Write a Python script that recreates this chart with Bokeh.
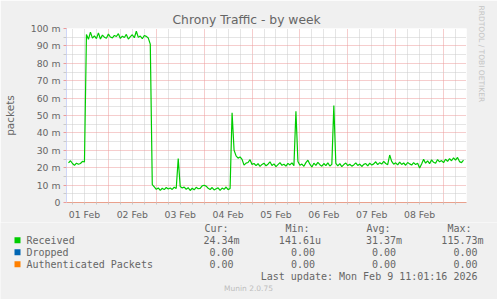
from bokeh.plotting import figure
from bokeh.layouts import column
from bokeh.models import FixedTicker, Range1d, Title
from bokeh.core.properties import value
from bokeh.embed import file_html
from bokeh.resources import INLINE

# ---------------- data ----------------
TITLE = "Chrony Traffic - by week"
Y_LABEL = "packets"
FIRST_HOUR = 4  # first sample: hours after 01 Feb 00:00, one sample per hour

# Received packets per second, in milli-units (m)
received = [
    22.8, 24.0, 22.4, 21.3, 22.6, 22.0, 22.4, 23.6, 23.3,
    96.5, 93.8, 97.9, 94.5, 95.8, 94.2, 97.5, 94.0, 96.2, 95.0, 94.4, 96.8,
    95.1, 94.6, 96.0, 95.4, 97.0, 94.3, 95.6, 94.8, 96.6, 93.9, 95.3, 96.4,
    94.7, 98.4, 94.9, 95.7, 94.1, 96.0, 95.5, 94.5,
    91.0,
    10.3, 9.0, 7.6, 8.4, 7.0, 8.2, 7.4, 8.6, 7.8, 8.3, 7.5, 8.8, 8.0,
    25.2,
    9.2, 8.4, 8.8, 7.6, 8.5, 6.9, 8.2, 7.3, 8.7, 7.9, 8.1, 9.6, 9.9, 9.4,
    8.2, 7.5, 8.6, 7.2, 7.9, 8.4, 7.0, 8.3, 7.6, 8.9, 7.4, 8.1,
    51.5,
    30.0, 26.8, 25.5, 26.2, 24.8, 21.5, 22.6, 23.0, 24.6, 21.9, 22.4, 21.2,
    22.3, 20.8, 21.9, 22.6, 21.1, 22.0, 23.4, 21.3, 22.2, 20.6, 21.8, 22.9,
    21.4, 22.0, 20.9, 22.5, 21.6, 22.8, 21.2,
    52.5,
    23.6, 21.4, 22.1, 20.8, 22.9, 24.3, 22.0, 20.4, 22.6, 21.3, 23.1, 21.7,
    20.9, 22.4, 21.2, 22.8, 21.0, 21.9,
    55.8,
    22.5, 21.0, 22.3, 20.6, 21.8, 22.7, 21.2, 22.0, 20.9, 21.6, 22.8, 21.3,
    22.1, 20.7, 21.9, 22.4, 21.0, 22.6, 21.5, 22.2, 23.4, 21.8, 22.9, 22.1,
    23.6, 22.4, 21.7,
    27.3,
    23.6, 22.0, 22.8, 21.6, 23.2, 21.9, 22.7, 21.4, 23.0, 22.2, 21.5, 22.9,
    21.8, 22.5, 19.8, 22.1, 24.8, 22.6, 23.9, 22.3, 24.5, 23.1, 22.6, 24.7,
    23.4, 24.1, 22.9, 24.9, 23.6, 25.2, 24.0, 25.7, 24.3, 25.9, 23.5, 22.9,
    24.3,
]
dropped = [0.0] * len(received)
authenticated = [0.0] * len(received)
hours = [FIRST_HOUR + i for i in range(len(received))]

day_labels = ["01 Feb", "02 Feb", "03 Feb", "04 Feb", "05 Feb", "06 Feb", "07 Feb", "08 Feb"]
y_ticks = [0, 10, 20, 30, 40, 50, 60, 70, 80, 90, 100]
y_tick_labels = ["0", "10 m", "20 m", "30 m", "40 m", "50 m", "60 m", "70 m", "80 m", "90 m", "100 m"]

series_names = ["Received", "Dropped", "Authenticated Packets"]
series_colors = ["#00CC00", "#0066B3", "#FF8000"]
stat_headers = ["Cur:", "Min:", "Avg:", "Max:"]
stat_cur = ["24.34m", "0.00", "0.00"]
stat_min = ["141.61u", "0.00", "0.00"]
stat_avg = ["31.37m", "0.00", "0.00"]
stat_max = ["115.73m", "0.00", "0.00"]
last_update = "Last update: Mon Feb  9 11:01:16 2026"
footer = "Munin 2.0.75"
side_note = "RRDTOOL / TOBI OETIKER"

# ---------------- styling / layout ----------------
W = 497
H_TOP = 222
H_BOT = 299 - H_TOP
FL, FR, FT, FB = 66, 30, 28, 19
X0, X1 = 3.0, 203.5
Y0, Y1 = 0.0, 100.0

FONT = "DejaVu Sans"
MONO = "DejaVu Sans Mono"
TXT = "#666666"
LAV = "#CFD6F8"
MGRID = "#EC9A9A"
GRID = "#CACACA"
BACK = "#F0F0F0"

p = figure(width=W, height=H_TOP, title=TITLE,
           x_range=Range1d(X0, X1), y_range=Range1d(Y0, Y1),
           output_backend="svg", toolbar_location=None,
           min_border_left=FL, min_border_right=FR,
           min_border_top=FT, min_border_bottom=FB,
           background_fill_color="#FFFFFF", border_fill_color=BACK,
           outline_line_color=None)

p.title.align = "left"
p.title.offset = 106
p.title.standoff = 3
p.title.text_font = FONT
p.title.text_font_size = "12.3px"
p.title.text_font_style = "normal"
p.title.text_color = TXT

# vertical credit in the right margin
p.add_layout(Title(text=side_note, align="left", offset=-23, standoff=20,
                   text_font=FONT, text_font_size="7.5px", text_font_style="normal",
                   text_color="#C4C4C4"), "right")

day_bounds = [24 * d for d in range(1, 9)]
six_hour_all = [6 * k for k in range(1, 34)]
six_hour_minor = [h for h in six_hour_all if h % 24 != 0]
label_pos = [24 * i + 12 for i in range(len(day_labels))]

# grids
p.xgrid.ticker = FixedTicker(ticks=day_bounds, minor_ticks=six_hour_minor)
p.xgrid.grid_line_color = MGRID
p.xgrid.grid_line_dash = "1 1"
p.xgrid.minor_grid_line_color = GRID
p.xgrid.minor_grid_line_dash = "1 1"

y_minor = [t + 5 for t in y_ticks[:-1]]
p.yaxis.ticker = FixedTicker(ticks=y_ticks, minor_ticks=y_minor)
p.ygrid.grid_line_color = MGRID
p.ygrid.grid_line_dash = "1 1"
p.ygrid.minor_grid_line_color = GRID
p.ygrid.minor_grid_line_dash = "1 1"

# x axis
xa = p.xaxis[0]
xa.ticker = FixedTicker(ticks=label_pos, minor_ticks=six_hour_all)
xa.major_label_overrides = {pos: lab for pos, lab in zip(label_pos, day_labels)}
xa.major_tick_line_color = None
xa.major_tick_out = 0
xa.major_tick_in = 0
xa.minor_tick_out = 2
xa.minor_tick_in = 0
xa.minor_tick_line_color = "#C8C8C8"
xa.axis_line_color = "#E9A08C"
xa.major_label_standoff = 4
xa.major_label_text_font = FONT
xa.major_label_text_font_size = "9.3px"
xa.major_label_text_color = TXT

# y axis
ya = p.yaxis[0]
ya.major_label_overrides = {t: lab for t, lab in zip(y_ticks, y_tick_labels)}
ya.major_tick_out = 3
ya.major_tick_in = 0
ya.major_tick_line_color = MGRID
ya.minor_tick_out = 3
ya.minor_tick_in = 0
ya.minor_tick_line_color = GRID
ya.axis_line_color = LAV
ya.major_label_standoff = 3
ya.major_label_text_font = FONT
ya.major_label_text_font_size = "9.3px"
ya.major_label_text_color = TXT
ya.axis_label = Y_LABEL
ya.axis_label_standoff = 12
ya.axis_label_text_font = FONT
ya.axis_label_text_font_size = "10.5px"
ya.axis_label_text_font_style = "normal"
ya.axis_label_text_color = TXT

# series
p.line(hours, received, line_color=series_colors[0], line_width=1.2)
p.line(hours, dropped, line_color=series_colors[1], line_width=1)
p.line(hours, authenticated, line_color=series_colors[2], line_width=1)

# ---------------- legend panel (pixel coordinates of the whole page) ----------------
q = figure(frame_width=W, frame_height=H_BOT, x_range=Range1d(0, W), y_range=Range1d(299, H_TOP),
           output_backend="svg", toolbar_location=None,
           min_border=0, min_border_left=0, min_border_right=0,
           min_border_top=0, min_border_bottom=0,
           background_fill_color=BACK, border_fill_color=BACK,
           outline_line_color=None, x_axis_type=None, y_axis_type=None)
q.grid.visible = False
for fig in (p, q):
    if "frame_align" in fig.properties():
        fig.frame_align = False

head_left = [204, 285, 366, 447]
val_right = [239, 320.5, 401.5, 483]
row_y = [239.8, 251.8, 263.8]
HEAD_Y = 227.8
CHAR_W = 6.0

left_x, left_y, left_t = [], [], []
right_x, right_y, right_t = [], [], []
for hx, h in zip(head_left, stat_headers):
    left_x.append(hx); left_y.append(HEAD_Y); left_t.append(h)
for i, name in enumerate(series_names):
    left_x.append(26); left_y.append(row_y[i]); left_t.append(name)
    for col, vals in enumerate([stat_cur, stat_min, stat_avg, stat_max]):
        v = vals[i]
        rx = val_right[col] - (0 if v[-1].isalpha() else CHAR_W)
        right_x.append(rx); right_y.append(row_y[i]); right_t.append(v)
right_x.append(483); right_y.append(276.0); right_t.append(last_update)

q.rect(x=[17] * len(series_names), y=row_y, width=6, height=6,
       fill_color=series_colors, line_color=None)
q.text(x=left_x, y=left_y, text=left_t, text_align="left", text_baseline="middle",
       text_font=value(MONO), text_font_size=value("10px"), text_color=TXT)
q.text(x=right_x, y=right_y, text=right_t, text_align="right", text_baseline="middle",
       text_font=value(MONO), text_font_size=value("10px"), text_color=TXT)
q.text(x=[248], y=[288.2], text=[footer], text_align="center", text_baseline="middle",
       text_font=value(FONT), text_font_size=value("7.5px"), text_color="#BDBDBD")

layout = column(p, q, spacing=0)
open("out.html", "w").write(file_html(layout, INLINE))
